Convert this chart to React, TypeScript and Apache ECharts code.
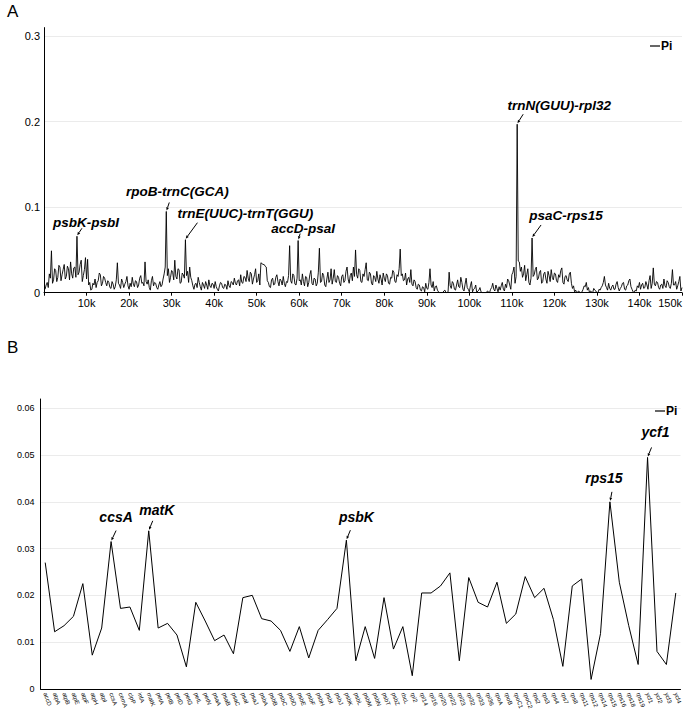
import { useEffect, useRef } from "react";
import * as echarts from "echarts";

// ---------- Panel A: sliding-window Pi along the genome ----------
const windowStart = 250;
const windowStep = 250;
const piA: number[] = [
  0.004, 0.009, 0.012, 0.006, 0.022, 0.017, 0.049, 0.011, 0.015, 0.028, 0.026, 0.013, 0.018, 0.032, 0.03, 0.014, 0.021, 0.027, 0.033, 0.016,
  0.019, 0.031, 0.028, 0.015, 0.036, 0.022, 0.017, 0.029, 0.03, 0.018, 0.066, 0.021, 0.024, 0.033, 0.038, 0.013, 0.02, 0.027, 0.041, 0.016,
  0.039, 0.009, 0.012, 0.003, 0.004, 0.011, 0.009, 0.016, 0.006, 0.012, 0.014, 0.023, 0.021, 0.008, 0.011, 0.019, 0.017, 0.012, 0.008, 0.014,
  0.012, 0.006, 0.005, 0.013, 0.01, 0.004, 0.007, 0.015, 0.035, 0.011, 0.009, 0.005, 0.016, 0.012, 0.006, 0.01, 0.013, 0.019, 0.008, 0.004,
  0.011, 0.007, 0.018, 0.01, 0.007, 0.014, 0.013, 0.006, 0.009, 0.017, 0.02, 0.011, 0.012, 0.008, 0.036, 0.013, 0.01, 0.015, 0.006, 0.003,
  0.014, 0.019, 0.008, 0.012, 0.011, 0.006, 0.004, 0.009, 0.013, 0.007, 0.009, 0.016, 0.022, 0.03, 0.095, 0.02, 0.028, 0.012, 0.018, 0.026,
  0.024, 0.015, 0.038, 0.019, 0.016, 0.028, 0.027, 0.011, 0.012, 0.023, 0.021, 0.017, 0.062, 0.02, 0.025, 0.012, 0.03, 0.018, 0.014, 0.008,
  0.004, 0.01, 0.011, 0.006, 0.018, 0.012, 0.007, 0.003, 0.012, 0.009, 0.005, 0.013, 0.009, 0.004, 0.015, 0.008, 0.006, 0.011, 0.01, 0.005,
  0.013, 0.007, 0.004, 0.002, 0.008, 0.012, 0.011, 0.006, 0.005, 0.01, 0.009, 0.004, 0.014, 0.008, 0.006, 0.013, 0.012, 0.009, 0.017, 0.011,
  0.009, 0.014, 0.015, 0.008, 0.021, 0.012, 0.011, 0.019, 0.018, 0.013, 0.026, 0.017, 0.013, 0.024, 0.022, 0.01, 0.016, 0.021, 0.028, 0.012,
  0.014, 0.022, 0.009, 0.035, 0.034, 0.033, 0.033, 0.031, 0.03, 0.014, 0.012, 0.007, 0.006, 0.015, 0.017, 0.009, 0.01, 0.018, 0.021, 0.013,
  0.008, 0.016, 0.014, 0.009, 0.019, 0.011, 0.007, 0.013, 0.012, 0.02, 0.055, 0.014, 0.011, 0.022, 0.02, 0.01, 0.009, 0.017, 0.061, 0.014,
  0.015, 0.009, 0.022, 0.013, 0.008, 0.019, 0.018, 0.007, 0.012, 0.021, 0.026, 0.011, 0.009, 0.017, 0.016, 0.008, 0.011, 0.024, 0.052, 0.012,
  0.013, 0.023, 0.02, 0.009, 0.007, 0.016, 0.024, 0.012, 0.015, 0.028, 0.01, 0.017, 0.027, 0.013, 0.012, 0.02, 0.018, 0.011, 0.008, 0.019,
  0.021, 0.012, 0.014, 0.025, 0.03, 0.016, 0.011, 0.02, 0.023, 0.014, 0.03, 0.019, 0.05, 0.021, 0.017, 0.028, 0.026, 0.013, 0.012, 0.022,
  0.019, 0.027, 0.035, 0.015, 0.014, 0.024, 0.022, 0.011, 0.009, 0.02, 0.018, 0.013, 0.025, 0.016, 0.011, 0.021, 0.016, 0.009, 0.023, 0.017,
  0.013, 0.022, 0.02, 0.011, 0.01, 0.018, 0.017, 0.026, 0.024, 0.013, 0.012, 0.021, 0.019, 0.028, 0.051, 0.02, 0.022, 0.014, 0.015, 0.023,
  0.009, 0.016, 0.018, 0.012, 0.027, 0.01, 0.008, 0.015, 0.013, 0.006, 0.004, 0.01, 0.009, 0.003, 0.002, 0.007, 0.006, 0.001, 0.011, 0.005,
  0.004, 0.012, 0.028, 0.009, 0.006, 0.013, 0.002, 0.007, 0.008, 0.003, 0.001, 0, 0, 0, 0, 0.002, 0.003, 0, 0, 0.001,
  0.024, 0.008, 0.005, 0.013, 0.011, 0.004, 0.003, 0.009, 0.015, 0.007, 0.006, 0.018, 0.012, 0.004, 0.002, 0.01, 0.017, 0.006, 0.004, 0.001,
  0.008, 0.013, 0.001, 0.004, 0.005, 0.009, 0, 0.002, 0.003, 0.006, 0.001, 0, 0, 0, 0, 0, 0.002, 0.001, 0, 0.004,
  0.006, 0.011, 0.004, 0.002, 0.009, 0.005, 0.001, 0.007, 0.003, 0.008, 0.012, 0.004, 0.002, 0.01, 0.006, 0.016, 0.014, 0.009, 0.004, 0.021,
  0.024, 0.03, 0.011, 0.019, 0.197, 0.037, 0.036, 0.025, 0.03, 0.018, 0.022, 0.032, 0.014, 0.021, 0.028, 0.012, 0.009, 0.017, 0.064, 0.019,
  0.021, 0.027, 0.03, 0.015, 0.017, 0.024, 0.026, 0.011, 0.013, 0.022, 0.024, 0.016, 0.011, 0.025, 0.02, 0.013, 0.027, 0.018, 0.015, 0.023,
  0.022, 0.014, 0.012, 0.021, 0.018, 0.026, 0.029, 0.012, 0.01, 0.019, 0.02, 0.015, 0.013, 0.022, 0.024, 0.011, 0.005, 0.008, 0.001, 0.003,
  0, 0.001, 0.002, 0, 0, 0.001, 0.004, 0.008, 0.007, 0.012, 0.003, 0.006, 0, 0.002, 0.001, 0, 0.005, 0.003, 0.002, 0,
  0, 0.004, 0.003, 0.006, 0.008, 0.012, 0.019, 0.009, 0.006, 0.003, 0.011, 0.005, 0.003, 0.007, 0.009, 0.004, 0.004, 0.01, 0.013, 0.006,
  0.002, 0.005, 0.007, 0.011, 0.012, 0.004, 0.003, 0.008, 0.009, 0.014, 0.016, 0.007, 0.004, 0.001, 0, 0.003, 0.002, 0.008, 0.006, 0.012,
  0.004, 0.009, 0.011, 0.005, 0.006, 0.013, 0.009, 0.004, 0.014, 0.02, 0.005, 0.011, 0.029, 0.01, 0.008, 0.013, 0.012, 0.006, 0.004, 0.009,
  0.01, 0.005, 0.016, 0.008, 0.006, 0.014, 0.012, 0.007, 0.005, 0.011, 0.027, 0.009, 0.009, 0.013, 0.004, 0.008, 0.013, 0.019, 0.002, 0.006,
];
const annoALabels = ["psbK-psbI", "rpoB-trnC(GCA)", "trnE(UUC)-trnT(GGU)", "accD-psaI", "trnN(GUU)-rpl32", "psaC-rps15"];
const annoAIndex = [30, 114, 132, 238, 444, 458];

// ---------- Panel B: Pi per gene ----------
const genesB = [
  "accD", "atpA", "atpB", "atpE", "atpF", "atpH", "atpI", "ccsA", "cemA", "clpP",
  "infA", "matK", "petA", "petB", "petD", "petG", "petL", "petN", "psaA", "psaB",
  "psaC", "psaI", "psaJ", "psbA", "psbB", "psbC", "psbD", "psbE", "psbF", "psbH",
  "psbI", "psbJ", "psbK", "psbL", "psbM", "psbN", "psbT", "psbZ", "rbcL", "rpl2",
  "rpl14", "rpl16", "rpl20", "rpl22", "rpl23", "rpl32", "rpl33", "rpl36", "rpoA", "rpoB",
  "rpoC1", "rpoC2", "rps2", "rps3", "rps4", "rps7", "rps8", "rps11", "rps12", "rps14",
  "rps15", "rps16", "rps18", "rps19", "ycf1", "ycf2", "ycf3", "ycf4",
];
const piB = [
  0.027, 0.0122, 0.0135, 0.0155, 0.0225, 0.0072, 0.013, 0.0315, 0.0172, 0.0175,
  0.0125, 0.0338, 0.013, 0.014, 0.0115, 0.0047, 0.0185, 0.0145, 0.0103, 0.0115,
  0.0075, 0.0195, 0.02, 0.015, 0.0145, 0.0125, 0.008, 0.0133, 0.0066, 0.0125,
  0.0148, 0.0172, 0.0318, 0.006, 0.0133, 0.0065, 0.0195, 0.0085, 0.0133, 0.0028,
  0.0205, 0.0205, 0.022, 0.0248, 0.006, 0.0238, 0.0185, 0.0175, 0.0228, 0.014,
  0.016, 0.024, 0.0195, 0.0215, 0.0148, 0.0048, 0.022, 0.0235, 0.002, 0.0118,
  0.04, 0.0228, 0.0135, 0.0052, 0.0495, 0.008, 0.0052, 0.0205,
];
const annoBLabels = ["ccsA", "matK", "psbK", "rps15", "ycf1"];

// ---------- layout / style (pixels) ----------
// [arrow dx, arrow dy, label dx, label dy] relative to the marked point
const annoAStyle = [
  [5, 8, 9, -14],
  [3, 9, 11, -20],
  [12, 17, 60, -26],
  [2, 7, 5, -12],
  [6, 10, 42, -19],
  [9, 13, 34, -22],
];
const annoBStyle = [
  [5, 11, 5, -25],
  [4, 10, 8, -21],
  [4, 10, 10, -23],
  [2, 10, -6, -24],
  [4, 10, 8, -25],
];

const FONT = '"Liberation Sans", Arial, sans-serif';

function arrowGroup(pt: number[], s: number[], label: string, fontSize: number) {
  const [adx, ady, ldx, ldy] = s;
  const x1 = pt[0] + adx;
  const y1 = pt[1] - ady;
  const x2 = pt[0] + 0.3;
  const y2 = pt[1] - 1;
  const len = Math.hypot(x1 - x2, y1 - y2);
  const ux = (x1 - x2) / len;
  const uy = (y1 - y2) / len;
  const ah = 3.2;
  const aw = 1.4;
  const bx = x2 + ux * ah;
  const by = y2 + uy * ah;
  return {
    type: "group",
    children: [
      { type: "line", shape: { x1, y1, x2: bx, y2: by }, style: { stroke: "#000", lineWidth: 1 } },
      {
        type: "polygon",
        shape: { points: [[x2, y2], [bx - uy * aw, by + ux * aw], [bx + uy * aw, by - ux * aw]] },
        style: { fill: "#000" },
      },
      {
        type: "text",
        x: pt[0] + ldx,
        y: pt[1] + ldy,
        style: {
          text: label,
          fill: "#000",
          font: `italic bold ${fontSize}px ${FONT}`,
          lineHeight: fontSize - 1,
          align: "center",
          verticalAlign: "middle",
        },
      },
    ],
  };
}

export default function App() {
  const ref = useRef<HTMLDivElement>(null);
  useEffect(() => {
    document.body.style.margin = "0";
    if (!ref.current) return;
    const chart = echarts.init(ref.current, null, { renderer: "svg" });
    const dataA = piA.map((v, i) => [windowStart + i * windowStep, v]);
    const annoAData = annoAIndex.map((idx, i) => [windowStart + idx * windowStep, piA[idx], i]);
    const annoBData = annoBLabels.map((g, i) => {
      const idx = genesB.indexOf(g);
      return [idx, piB[idx], i];
    });
    chart.setOption({
      animation: false,
      textStyle: { fontFamily: FONT },
      graphic: [
        { type: "text", left: 7, top: 3, style: { text: "A", font: `17px ${FONT}`, fill: "#000" } },
        { type: "text", left: 7, top: 339, style: { text: "B", font: `17px ${FONT}`, fill: "#000" } },
      ],
      legend: [
        {
          data: ["Pi"],
          left: 650,
          top: 40,
          icon: "rect",
          itemWidth: 10,
          itemHeight: 1.2,
          padding: 0,
          textStyle: { fontWeight: "bold", fontSize: 12, color: "#000", padding: [0, 0, 0, -4] },
        },
        {
          data: ["Pi"],
          left: 655,
          top: 405,
          icon: "rect",
          itemWidth: 10,
          itemHeight: 1.2,
          padding: 0,
          textStyle: { fontWeight: "bold", fontSize: 12, color: "#000", padding: [0, 0, 0, -4] },
        },
      ],
      grid: [
        { left: 44, right: 3, top: 27.6, bottom: 419.3 },
        { left: 40.5, right: 4.5, top: 399, bottom: 22.7 },
      ],
      xAxis: [
        {
          type: "value",
          gridIndex: 0,
          min: 0,
          max: 150000,
          interval: 10000,
          axisLine: { lineStyle: { color: "#000", width: 1 } },
          axisTick: { show: true, length: 3, lineStyle: { color: "#000" } },
          splitLine: { show: false },
          axisLabel: {
            color: "#000",
            fontSize: 11,
            margin: 5,
            alignMaxLabel: "right",
            formatter: (v: number) => (v === 0 ? "" : `${v / 1000}k`),
          },
        },
        {
          type: "category",
          gridIndex: 1,
          data: genesB,
          boundaryGap: true,
          axisLine: { lineStyle: { color: "#000", width: 1 } },
          axisTick: { show: false },
          axisLabel: { color: "#000", fontSize: 6, interval: 0, rotate: -70, margin: 4 },
        },
      ],
      yAxis: [
        {
          type: "value",
          gridIndex: 0,
          min: 0,
          max: 0.31,
          interval: 0.1,
          axisLine: { show: true, lineStyle: { color: "#000", width: 1 } },
          axisTick: { show: false },
          axisLabel: { color: "#000", fontSize: 11, margin: 4, showMaxLabel: false },
          splitLine: { show: true, showMaxLine: false, lineStyle: { color: "#ebebeb", width: 1 } },
        },
        {
          type: "value",
          gridIndex: 1,
          min: 0,
          max: 0.062,
          interval: 0.01,
          axisLine: { show: true, lineStyle: { color: "#000", width: 1 } },
          axisTick: { show: false },
          axisLabel: { color: "#000", fontSize: 9, margin: 6, showMaxLabel: false },
          splitLine: { show: true, showMaxLine: false, lineStyle: { color: "#ebebeb", width: 1 } },
        },
      ],
      series: [
        {
          name: "Pi",
          type: "line",
          xAxisIndex: 0,
          yAxisIndex: 0,
          data: dataA,
          showSymbol: false,
          symbol: "none",
          lineStyle: { color: "#000", width: 0.9 },
          itemStyle: { color: "#000" },
        },
        {
          type: "custom",
          xAxisIndex: 0,
          yAxisIndex: 0,
          data: annoAData,
          clip: false,
          silent: true,
          renderItem: (_p: any, api: any) => {
            const i = api.value(2);
            const pt = api.coord([api.value(0), api.value(1)]);
            return arrowGroup(pt, annoAStyle[i], annoALabels[i], 13.5);
          },
        },
        {
          name: "Pi",
          type: "line",
          xAxisIndex: 1,
          yAxisIndex: 1,
          data: piB,
          showSymbol: false,
          symbol: "none",
          lineStyle: { color: "#000", width: 1 },
          itemStyle: { color: "#000" },
        },
        {
          type: "custom",
          xAxisIndex: 1,
          yAxisIndex: 1,
          data: annoBData,
          clip: false,
          silent: true,
          renderItem: (_p: any, api: any) => {
            const i = api.value(2);
            const pt = api.coord([api.value(0), api.value(1)]);
            return arrowGroup(pt, annoBStyle[i], annoBLabels[i], 14);
          },
        },
      ],
    });
    return () => chart.dispose();
  }, []);
  return <div ref={ref} style={{ width: 685, height: 712 }} />;
}
